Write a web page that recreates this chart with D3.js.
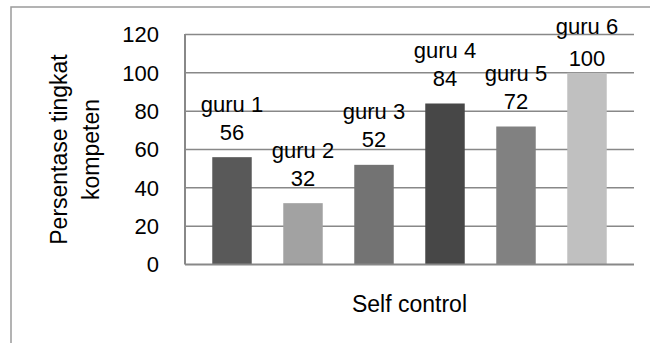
<!DOCTYPE html>
<html><head><meta charset="utf-8">
<script src="https://cdn.jsdelivr.net/npm/d3@7"></script>
<style>body{margin:0;background:#fff}svg{display:block}text{font-family:"Liberation Sans",Arial,sans-serif;fill:#000}</style>
</head><body><div id="chart"></div>
<script>
const categories = ["guru 1","guru 2","guru 3","guru 4","guru 5","guru 6"];
const values = [56, 32, 52, 84, 72, 100];
const colors = ["#595959","#a2a2a2","#737373","#474747","#818181","#c0c0c0"];
const yTicks = [0, 20, 40, 60, 80, 100, 120];
const xTitle = "Self control";
const yTitle = ["Persentase tingkat", "kompeten"];

(function () {
const W = 650, H = 343;
const svg = d3.select("#chart").append("svg").attr("width", W).attr("height", H);

// outer chart border (extends beyond the visible frame)
svg.append("rect").attr("x", 11).attr("y", 7).attr("width", 700).attr("height", 400)
  .attr("fill", "none").attr("stroke", "#9a9a9a").attr("stroke-width", 1.5);

const pL = 185, pR = 634, pT = 34.5, pB = 264.5;
const y = d3.scaleLinear().domain([0, 120]).range([pB, pT]);
const x = d3.scaleBand().domain(categories).range([pL, pR])
  .paddingInner(0.444).paddingOuter(0.384);

// gridlines
svg.append("g").selectAll("line").data(yTicks.filter(d => d > 0)).join("line")
  .attr("x1", pL).attr("x2", pR)
  .attr("y1", d => y(d)).attr("y2", d => y(d))
  .attr("stroke", "#888").attr("stroke-width", 1.5);

// y axis (labels only, line drawn separately)
const yAxis = d3.axisLeft(y).tickValues(yTicks).tickSize(0).tickPadding(26);
const gy = svg.append("g").attr("transform", `translate(${pL},0)`).call(yAxis);
gy.select(".domain").remove();
gy.selectAll("text").attr("font-size", 22).attr("font-family", '"Liberation Sans",Arial,sans-serif').attr("fill", "#000").attr("dy", "0.33em");

// bars
svg.append("g").selectAll("rect").data(values).join("rect")
  .attr("x", (d, i) => x(categories[i]))
  .attr("width", x.bandwidth())
  .attr("y", d => y(d))
  .attr("height", d => y(0) - y(d))
  .attr("fill", (d, i) => colors[i]);

// axis lines
svg.append("line").attr("x1", pL).attr("x2", pL).attr("y1", pT - 0.5).attr("y2", pB)
  .attr("stroke", "#888").attr("stroke-width", 2);
svg.append("line").attr("x1", pL).attr("x2", pR).attr("y1", pB).attr("y2", pB)
  .attr("stroke", "#888").attr("stroke-width", 2);

// data labels (name + value), kept inside the chart area
const lbl = svg.append("g").selectAll("g").data(values).join("g");
lbl.append("text")
  .attr("x", (d, i) => x(categories[i]) + x.bandwidth() / 2)
  .attr("y", d => Math.max(y(d) - 17.5, 66))
  .attr("text-anchor", "middle").attr("font-size", 22)
  .text(d => d);
lbl.append("text")
  .attr("x", (d, i) => x(categories[i]) + x.bandwidth() / 2)
  .attr("y", d => Math.max(y(d) - 17.5 - 28, 34))
  .attr("text-anchor", "middle").attr("font-size", 22)
  .text((d, i) => categories[i]);

// x title
svg.append("text").attr("x", (pL + pR) / 2).attr("y", 312)
  .attr("text-anchor", "middle").attr("font-size", 23).text(xTitle);

// y title (two lines, rotated)
const yt = svg.append("text").attr("transform", `translate(66.5,${(pT + pB) / 2}) rotate(-90)`)
  .attr("text-anchor", "middle").attr("font-size", 23);
yt.selectAll("tspan").data(yTitle).join("tspan")
  .attr("x", 0).attr("dy", (d, i) => i === 0 ? 0 : 32).text(d => d);
})();
</script></body></html>
